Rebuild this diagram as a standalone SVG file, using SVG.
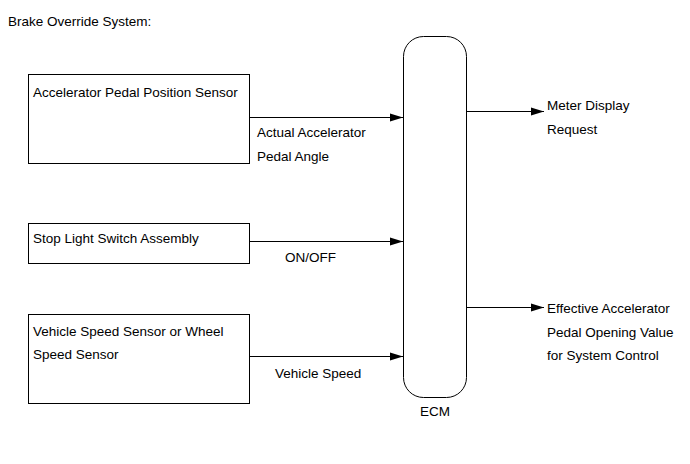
<svg xmlns="http://www.w3.org/2000/svg" width="690" height="464" viewBox="0 0 690 464">
<style>
text{font-family:"Liberation Sans",Arial,sans-serif;font-size:13.5px;fill:#000}
.box{fill:#fff;stroke:#000;stroke-width:1}
.ln{stroke:#000;stroke-width:1;fill:none}
</style>
<defs>
<marker id="ah" markerUnits="userSpaceOnUse" markerWidth="14" markerHeight="10" refX="13" refY="5" orient="auto">
<path d="M0,1 L13,5 L0,9 Z" fill="#000"/>
</marker>
</defs>
<rect width="690" height="464" fill="#fff"/>
<text x="8" y="26">Brake Override System:</text>
<g id="n-apps">
<rect class="box" x="28.5" y="74.5" width="221" height="89"/>
<text x="33" y="97">Accelerator Pedal Position Sensor</text>
</g>
<g id="n-sls">
<rect class="box" x="28.5" y="223.5" width="221" height="40"/>
<text x="33" y="243">Stop Light Switch Assembly</text>
</g>
<g id="n-vss">
<rect class="box" x="28.5" y="314.5" width="221" height="89"/>
<text x="33" y="336">Vehicle Speed Sensor or Wheel</text>
<text x="33" y="359">Speed Sensor</text>
</g>
<g id="n-ecm">
<rect class="box" x="403.5" y="36.5" width="63" height="361" rx="20" ry="20"/>
<text x="435" y="416" text-anchor="middle">ECM</text>
</g>
<g id="connectors">
<line class="ln" x1="249.5" y1="117.5" x2="403" y2="117.5" marker-end="url(#ah)"/>
<line class="ln" x1="249.5" y1="241.5" x2="403" y2="241.5" marker-end="url(#ah)"/>
<line class="ln" x1="249.5" y1="356.5" x2="403" y2="356.5" marker-end="url(#ah)"/>
<line class="ln" x1="466.5" y1="111.5" x2="544" y2="111.5" marker-end="url(#ah)"/>
<line class="ln" x1="466.5" y1="307.5" x2="544" y2="307.5" marker-end="url(#ah)"/>
</g>
<g id="labels">
<text x="257" y="137">Actual Accelerator</text>
<text x="257" y="161">Pedal Angle</text>
<text x="285" y="262">ON/OFF</text>
<text x="275" y="378">Vehicle Speed</text>
<text x="547" y="110">Meter Display</text>
<text x="547" y="134">Request</text>
<text x="547" y="313">Effective Accelerator</text>
<text x="547" y="337">Pedal Opening Value</text>
<text x="547" y="360">for System Control</text>
</g>
</svg>
